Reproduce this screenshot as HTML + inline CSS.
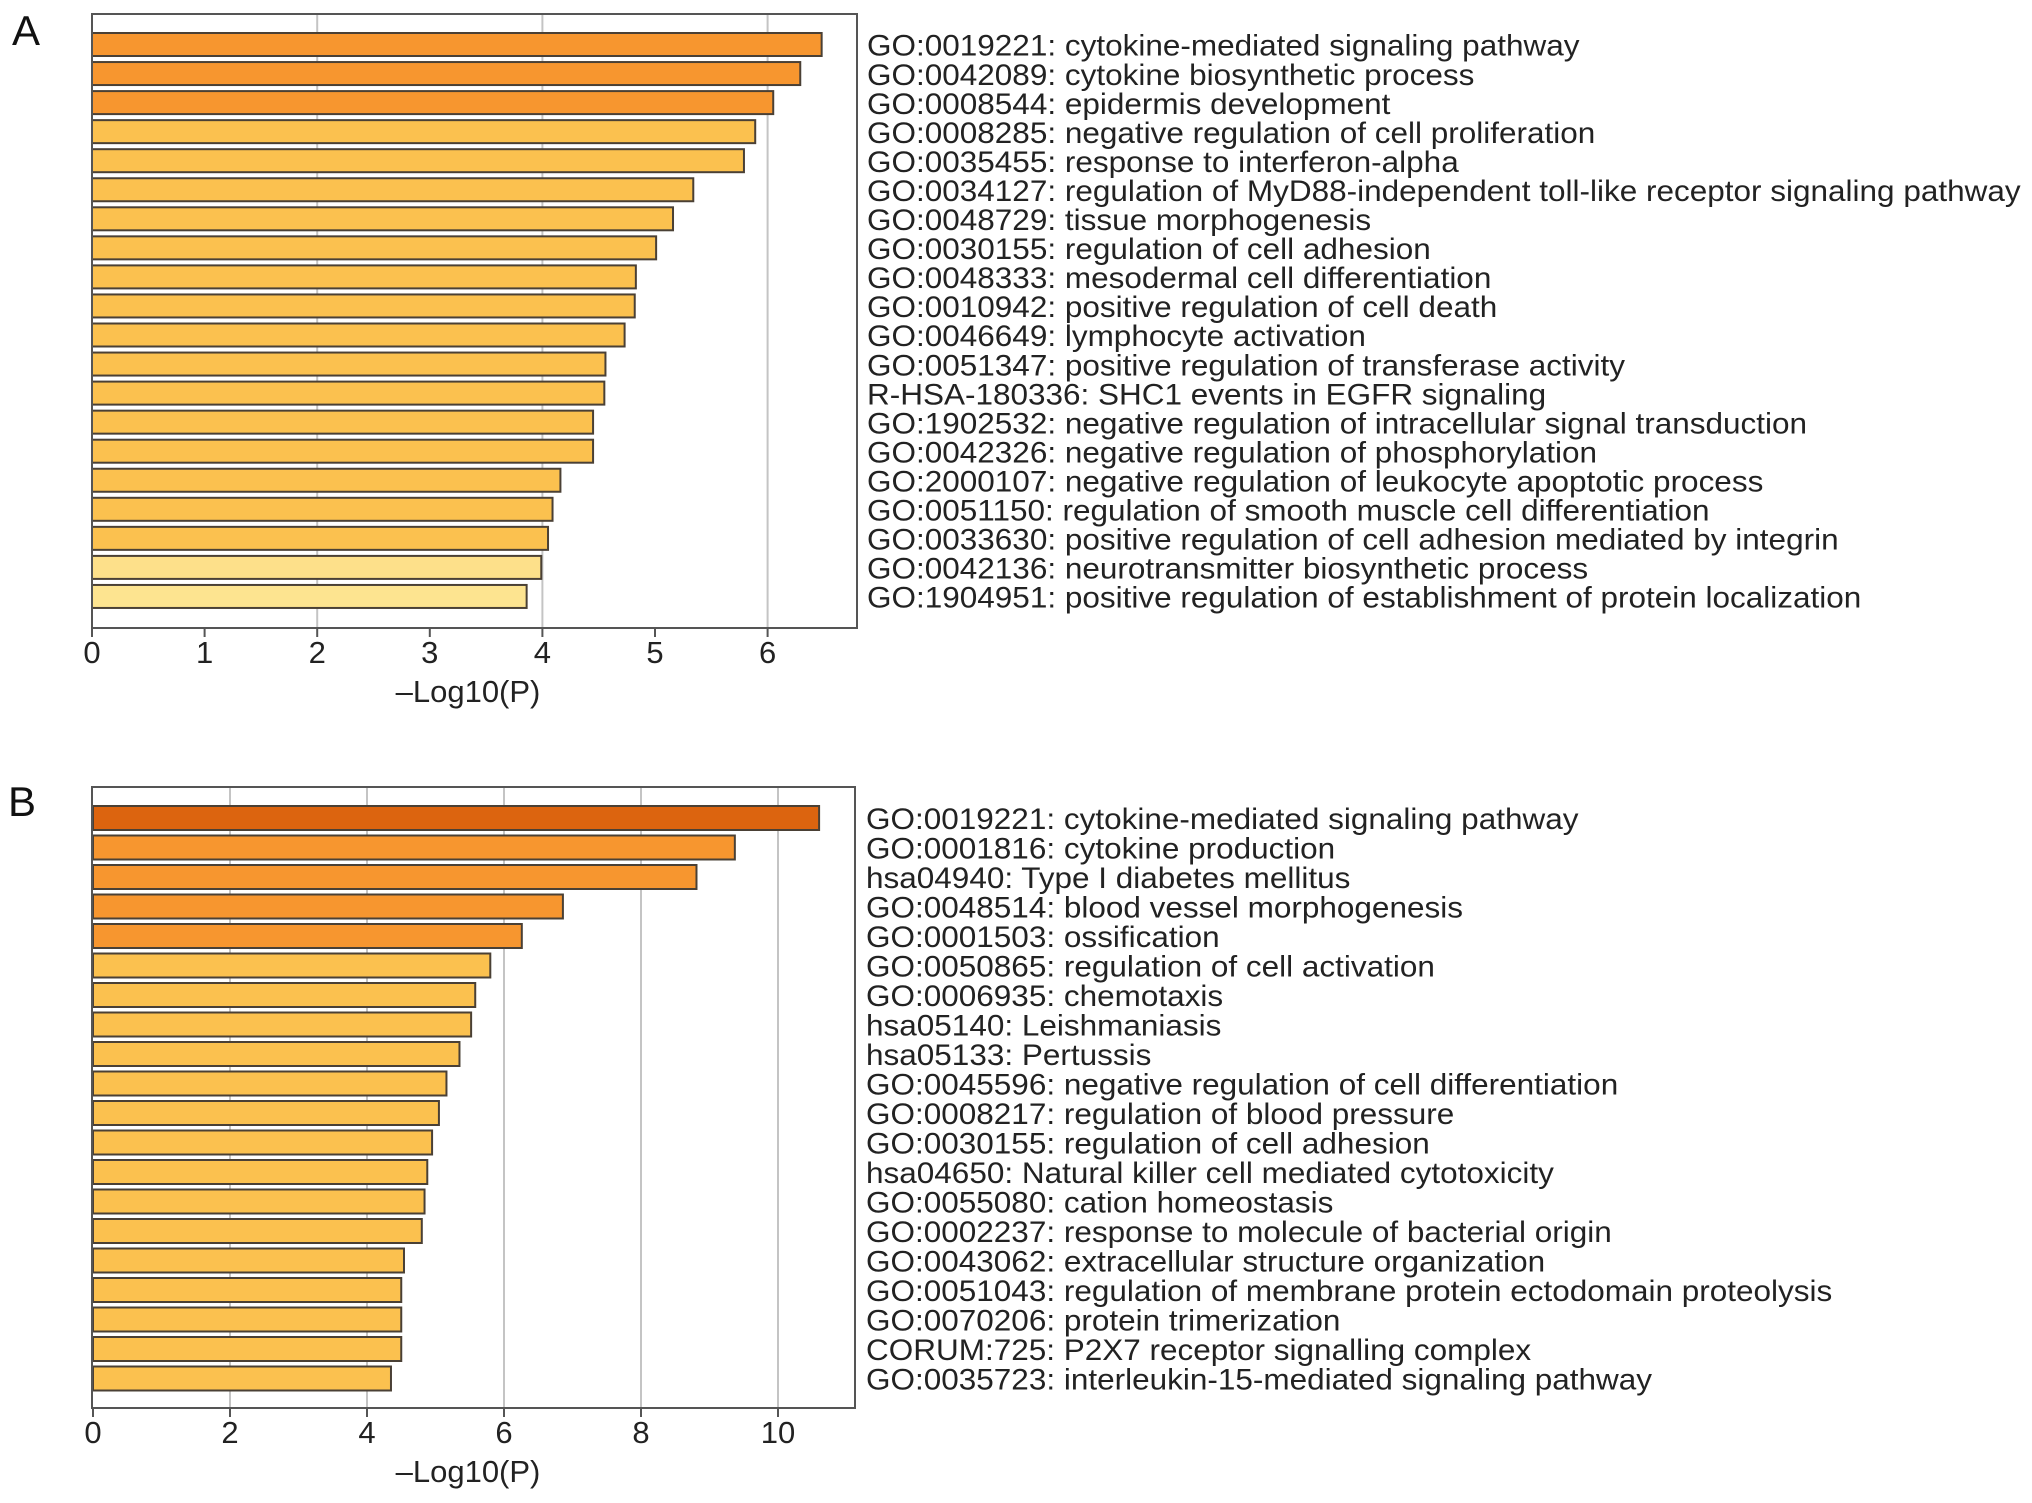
<!DOCTYPE html>
<html><head><meta charset="utf-8">
<style>
html,body{margin:0;padding:0;background:#fff;}
svg{display:block;font-family:"Liberation Sans",Arial,sans-serif;}
</style></head>
<body>
<svg id="chart" width="2032" height="1503" viewBox="0 0 2032 1503" xmlns="http://www.w3.org/2000/svg"></svg>
<script>
const labelsA = ["GO:0019221: cytokine-mediated signaling pathway","GO:0042089: cytokine biosynthetic process","GO:0008544: epidermis development","GO:0008285: negative regulation of cell proliferation","GO:0035455: response to interferon-alpha","GO:0034127: regulation of MyD88-independent toll-like receptor signaling pathway","GO:0048729: tissue morphogenesis","GO:0030155: regulation of cell adhesion","GO:0048333: mesodermal cell differentiation","GO:0010942: positive regulation of cell death","GO:0046649: lymphocyte activation","GO:0051347: positive regulation of transferase activity","R-HSA-180336: SHC1 events in EGFR signaling","GO:1902532: negative regulation of intracellular signal transduction","GO:0042326: negative regulation of phosphorylation","GO:2000107: negative regulation of leukocyte apoptotic process","GO:0051150: regulation of smooth muscle cell differentiation","GO:0033630: positive regulation of cell adhesion mediated by integrin","GO:0042136: neurotransmitter biosynthetic process","GO:1904951: positive regulation of establishment of protein localization"];
const valuesA = [6.48,6.29,6.05,5.89,5.79,5.34,5.16,5.01,4.83,4.82,4.73,4.56,4.55,4.45,4.45,4.16,4.09,4.05,3.99,3.86];
const colorsA = ["#f7962f","#f7962f","#f7962f","#fbc14f","#fbc14f","#fbc14f","#fbc14f","#fbc14f","#fbc14f","#fbc14f","#fbc14f","#fbc14f","#fbc14f","#fbc14f","#fbc14f","#fbc14f","#fbc14f","#fbc14f","#fde08a","#fde490"];
const ticksA = [0,1,2,3,4,5,6];
const gridA = [2,4,6];

const labelsB = ["GO:0019221: cytokine-mediated signaling pathway","GO:0001816: cytokine production","hsa04940: Type I diabetes mellitus","GO:0048514: blood vessel morphogenesis","GO:0001503: ossification","GO:0050865: regulation of cell activation","GO:0006935: chemotaxis","hsa05140: Leishmaniasis","hsa05133: Pertussis","GO:0045596: negative regulation of cell differentiation","GO:0008217: regulation of blood pressure","GO:0030155: regulation of cell adhesion","hsa04650: Natural killer cell mediated cytotoxicity","GO:0055080: cation homeostasis","GO:0002237: response to molecule of bacterial origin","GO:0043062: extracellular structure organization","GO:0051043: regulation of membrane protein ectodomain proteolysis","GO:0070206: protein trimerization","CORUM:725: P2X7 receptor signalling complex","GO:0035723: interleukin-15-mediated signaling pathway"];
const valuesB = [10.60,9.37,8.81,6.86,6.26,5.80,5.58,5.52,5.35,5.16,5.05,4.95,4.88,4.84,4.80,4.54,4.50,4.50,4.50,4.35];
const colorsB = ["#dc640f","#f7962f","#f7962f","#f7962f","#f7962f","#fbc14f","#fbc14f","#fbc14f","#fbc14f","#fbc14f","#fbc14f","#fbc14f","#fbc14f","#fbc14f","#fbc14f","#fbc14f","#fbc14f","#fbc14f","#fbc14f","#fbc14f"];
const ticksB = [0,2,4,6,8,10];
const gridB = [2,4,6,8,10];

const NS = "http://www.w3.org/2000/svg";
const svg = document.getElementById('chart');
function mk(tag, attrs, parent){const e=document.createElementNS(NS,tag);for(const k in attrs)e.setAttribute(k,attrs[k]);(parent||svg).appendChild(e);return e;}

function panel(cfg){
  const g = mk('g',{});
  
  
  const x = v => cfg.x0 + (v - 0) * cfg.unit;
  const yTop = i => cfg.barTop + i * cfg.pitch;
  cfg.grid.forEach(v=>{
    const l = mk('line',{x1:x(v),x2:x(v),y1:cfg.top,y2:cfg.bottom,stroke:'#c4c4c4','stroke-width':2},g);
    
    
  });
  cfg.values.forEach((v,i)=>{
    const r = mk('rect',{x:x(0),y:yTop(i),width:x(v)-x(0),height:cfg.barH,fill:cfg.colors[i],stroke:'#4a4035','stroke-width':2},g);
    
    
    const t = mk('text',{x:0,y:0,'font-size':30,fill:'#222','dominant-baseline':'central',transform:`translate(${cfg.labelX},${yTop(i)+cfg.barH/2+1}) scale(1.05,1)`},g);
    t.textContent = cfg.labels[i];
    
    
  });
  const f = mk('rect',{x:cfg.left,y:cfg.top,width:cfg.right-cfg.left,height:cfg.bottom-cfg.top,fill:'none',stroke:'#555','stroke-width':2},g);
  
  
  cfg.ticks.forEach(v=>{
    const tk = mk('line',{x1:x(v),x2:x(v),y1:cfg.bottom,y2:cfg.bottom+9,stroke:'#555','stroke-width':2},g);
    
    
    const tl = mk('text',{x:x(v),y:cfg.bottom+35,'font-size':31,'text-anchor':'middle',fill:'#222'},g);
    tl.textContent = String(v);
    
    
  });
  const at = mk('text',{x:cfg.titleX,y:cfg.bottom+74,'font-size':31,'text-anchor':'middle',fill:'#222'},g);
  at.textContent = '\u2013Log10(P)';
  
  
  const pl = mk('text',{x:cfg.letterX,y:cfg.letterY,'font-size':42,fill:'#111'},g);
  pl.textContent = cfg.id;
  
  
}

panel({id:'A',labels:labelsA,values:valuesA,colors:colorsA,ticks:ticksA,grid:gridA,
  left:92,right:857,top:14,bottom:628,x0:92,unit:112.6,barTop:33,pitch:29.05,barH:23,
  labelX:867,titleX:468,letterX:12,letterY:45});
panel({id:'B',labels:labelsB,values:valuesB,colors:colorsB,ticks:ticksB,grid:gridB,
  left:92,right:855,top:787,bottom:1408,x0:93,unit:68.5,barTop:806,pitch:29.5,barH:24,
  labelX:866,titleX:468,letterX:8,letterY:816});
</script>
</body></html>
